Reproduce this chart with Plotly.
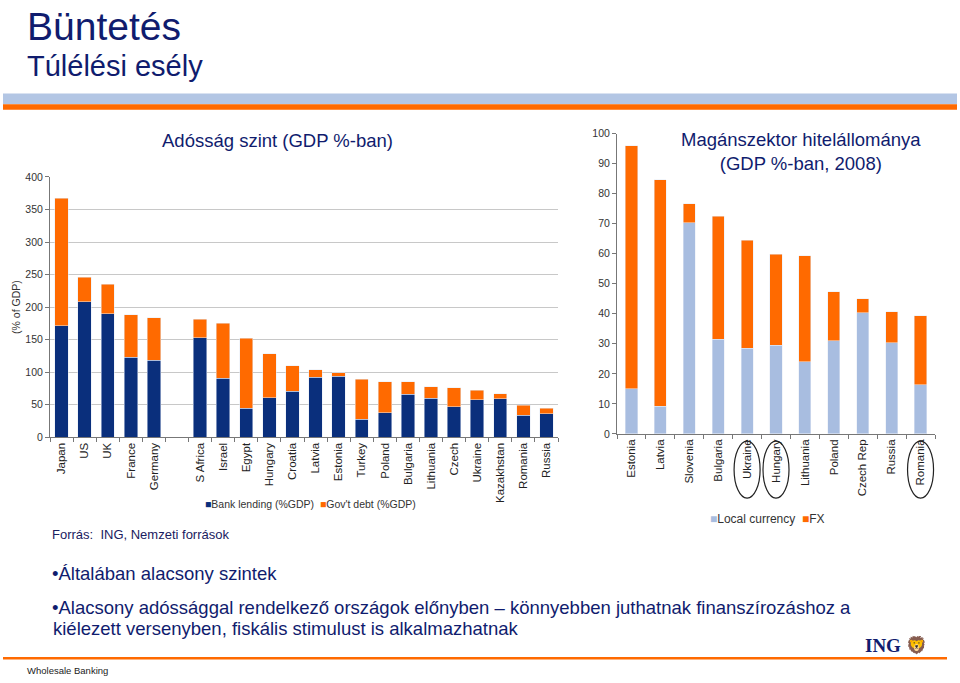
import plotly.graph_objects as go

# ---- Left chart data: debt levels (% of GDP) ----
left_categories = ["Japan", "US", "UK", "France", "Germany", " ",
                   "S Africa", "Israel", "Egypt", "Hungary", "Croatia", "Latvia",
                   "Estonia", "Turkey", "Poland", "Bulgaria", "Lithuania", "Czech",
                   "Ukraine", "Kazakhstan", "Romania", "Russia"]
bank_lending = [171, 208, 190, 123, 118, None,
                153, 91, 45, 61, 71, 92,
                94, 28, 38, 66, 60, 47,
                58, 59, 34, 36]
govt_debt = [196, 38, 45, 65, 66, None,
             28, 84, 107, 67, 39, 12,
             5, 61, 47, 19, 18, 29,
             14, 8, 15, 9]
left_yticks = [0, 50, 100, 150, 200, 250, 300, 350, 400]
left_series_names = ["Bank lending (%GDP)", "Gov't debt (%GDP)"]

# ---- Right chart data: private sector credit (% of GDP, 2008) ----
right_categories = ["Estonia", "Latvia", "Slovenia", "Bulgaria", "Ukraine", "Hungary",
                    "Lithuania", "Poland", "Czech Rep", "Russia", "Romania"]
local_currency = [15, 9.2, 70.4, 31.5, 28.5, 29.5, 24.1, 31, 40.3, 30.4, 16.3]
fx = [81, 75.4, 6.3, 41, 36, 30.3, 35.2, 16.4, 4.7, 10.3, 23]
right_yticks = [0, 10, 20, 30, 40, 50, 60, 70, 80, 90, 100]
right_series_names = ["Local currency", "FX"]
circled = ["Ukraine", "Hungary", "Romania"]

NAVY = "#0a2f7c"
ORANGE = "#ff6a00"
LIGHT = "#a8bde0"
TITLE = "#101c6e"
FONT = "Arial, Liberation Sans, sans-serif"
W, H = 960, 683


def px(x):
    return x / W


def py(y):
    return 1 - y / H


fig = go.Figure()
fig.add_trace(go.Bar(x=left_categories, y=bank_lending, name=left_series_names[0],
                     marker_color=NAVY, xaxis="x", yaxis="y", width=0.58))
fig.add_trace(go.Bar(x=left_categories, y=govt_debt, name=left_series_names[1],
                     marker_color=ORANGE, xaxis="x", yaxis="y", width=0.58))
fig.add_trace(go.Bar(x=right_categories, y=local_currency, name=right_series_names[0],
                     marker_color=LIGHT, xaxis="x2", yaxis="y2", width=0.42))
fig.add_trace(go.Bar(x=right_categories, y=fx, name=right_series_names[1],
                     marker_color=ORANGE, xaxis="x2", yaxis="y2", width=0.42))

axis_font = dict(family=FONT, size=11.5, color="#222222")

fig.update_layout(
    width=W, height=H, barmode="stack",
    margin=dict(l=0, r=0, t=0, b=0),
    paper_bgcolor="white", plot_bgcolor="white",
    font=dict(family=FONT, color="#333333"),
    showlegend=False,
    xaxis=dict(domain=[px(50), px(558)], anchor="y", type="category",
               categoryorder="array", categoryarray=left_categories,
               tickangle=-90, tickfont=axis_font, showline=True, linecolor="#777777",
               ticks="outside", tickson="boundaries", ticklen=4, tickcolor="#777777",
               showgrid=False),
    yaxis=dict(domain=[py(439), py(174)], anchor="x", range=[0, 400],
               tickvals=left_yticks, tickfont=dict(size=10.5, color="#333333"),
               showline=True, linecolor="#777777", ticks="outside", ticklen=4,
               tickcolor="#777777", showgrid=True, gridcolor="#c8c8c8", gridwidth=1,
               zeroline=False,
               title=dict(text="(% of GDP)", font=dict(size=10.5, color="#333333"), standoff=2)),
    xaxis2=dict(domain=[px(617), px(935)], anchor="y2", type="category",
                categoryorder="array", categoryarray=right_categories,
                tickangle=-90, tickfont=axis_font, showline=True, linecolor="#777777",
                ticks="outside", tickson="boundaries", ticklen=4, tickcolor="#777777",
                showgrid=False),
    yaxis2=dict(domain=[py(435.5), py(130)], anchor="x2", range=[0, 100],
                tickvals=right_yticks, tickfont=dict(size=10.5, color="#333333"),
                showline=True, linecolor="#777777", ticks="outside", ticklen=4,
                tickcolor="#777777", showgrid=False, zeroline=False),
)


def legend_text(names, colors):
    return "  ".join(f"<span style='color:{c}'>■</span>{n}" for n, c in zip(names, colors))


annotations = [
    dict(text="Büntetés", x=px(25), y=py(21), xanchor="left", yanchor="middle",
         font=dict(size=39, color=TITLE)),
    dict(text="Túlélési esély", x=px(25), y=py(61), xanchor="left", yanchor="middle",
         font=dict(size=29, color=TITLE)),
    dict(text="Adósság szint (GDP %-ban)", x=px(277), y=py(137), xanchor="center", yanchor="middle",
         font=dict(size=18.5, color=TITLE)),
    dict(text="Magánszektor hitelállománya<br>(GDP %-ban, 2008)", x=px(801), y=py(148),
         xanchor="center", yanchor="middle", align="center",
         font=dict(size=18.5, color=TITLE)),
    dict(text=legend_text(left_series_names, [NAVY, ORANGE]), x=px(203), y=py(507),
         xanchor="left", yanchor="middle", font=dict(size=10.5, color="#333333")),
    dict(text=legend_text(right_series_names, [LIGHT, ORANGE]), x=px(708), y=py(522),
         xanchor="left", yanchor="middle", font=dict(size=12, color="#333333")),
    dict(text="Forrás:  ING, Nemzeti források", x=px(50), y=py(538), xanchor="left",
         yanchor="middle", font=dict(size=13, color="#1a2060")),
    dict(text="•Általában alacsony szintek", x=px(50), y=py(578), xanchor="left",
         yanchor="middle", font=dict(size=18.5, color=TITLE)),
    dict(text="•Alacsony adóssággal rendelkező országok előnyben – könnyebben juthatnak finanszírozáshoz a",
         x=px(50), y=py(612), xanchor="left", yanchor="middle", font=dict(size=18.5, color=TITLE)),
    dict(text="kiélezett versenyben, fiskális stimulust is alkalmazhatnak",
         x=px(51), y=py(634), xanchor="left", yanchor="middle", font=dict(size=18.5, color=TITLE)),
    dict(text="Wholesale Banking", x=px(25), y=py(676), xanchor="left", yanchor="middle",
         font=dict(size=9.5, color="#222222")),
    dict(text="<b>ING</b>", x=px(903), y=py(651), xanchor="right", yanchor="middle",
         font=dict(size=19, color=TITLE, family="Liberation Serif, serif")),
    dict(text="🦁", x=px(904), y=py(650), xanchor="left", yanchor="middle",
         font=dict(size=17, color=ORANGE)),
]
for a in annotations:
    a.update(xref="paper", yref="paper", showarrow=False)
fig.update_layout(annotations=annotations)

shapes = [
    dict(type="rect", x0=px(3), x1=px(957), y0=py(100), y1=py(89),
         fillcolor="#b3c6e4", line_width=0),
    dict(type="rect", x0=px(3), x1=px(957), y0=py(105.5), y1=py(100),
         fillcolor=ORANGE, line_width=0),
    dict(type="line", x0=px(3), x1=px(947), y0=py(664), y1=py(664),
         line=dict(color=ORANGE, width=2.5)),
]
for name in circled:
    i = right_categories.index(name)
    shapes.append(dict(type="circle", xref="x2", yref="paper",
                       x0=i - 0.45, x1=i + 0.45, y0=py(501), y1=py(443),
                       line=dict(color="#222222", width=1.2)))
for s in shapes:
    s.setdefault("xref", "paper")
    s.setdefault("yref", "paper")
fig.update_layout(shapes=shapes)

fig.write_html(
    "out.html", config={"displayModeBar": False},
    post_script=(
        "document.documentElement.style.margin='0';"
        "document.documentElement.style.padding='0';"
        "document.documentElement.style.overflow='hidden';"
        "document.body.style.margin='0';"
        "document.body.style.padding='0';"
        "document.body.style.overflow='hidden';"
    ),
)
